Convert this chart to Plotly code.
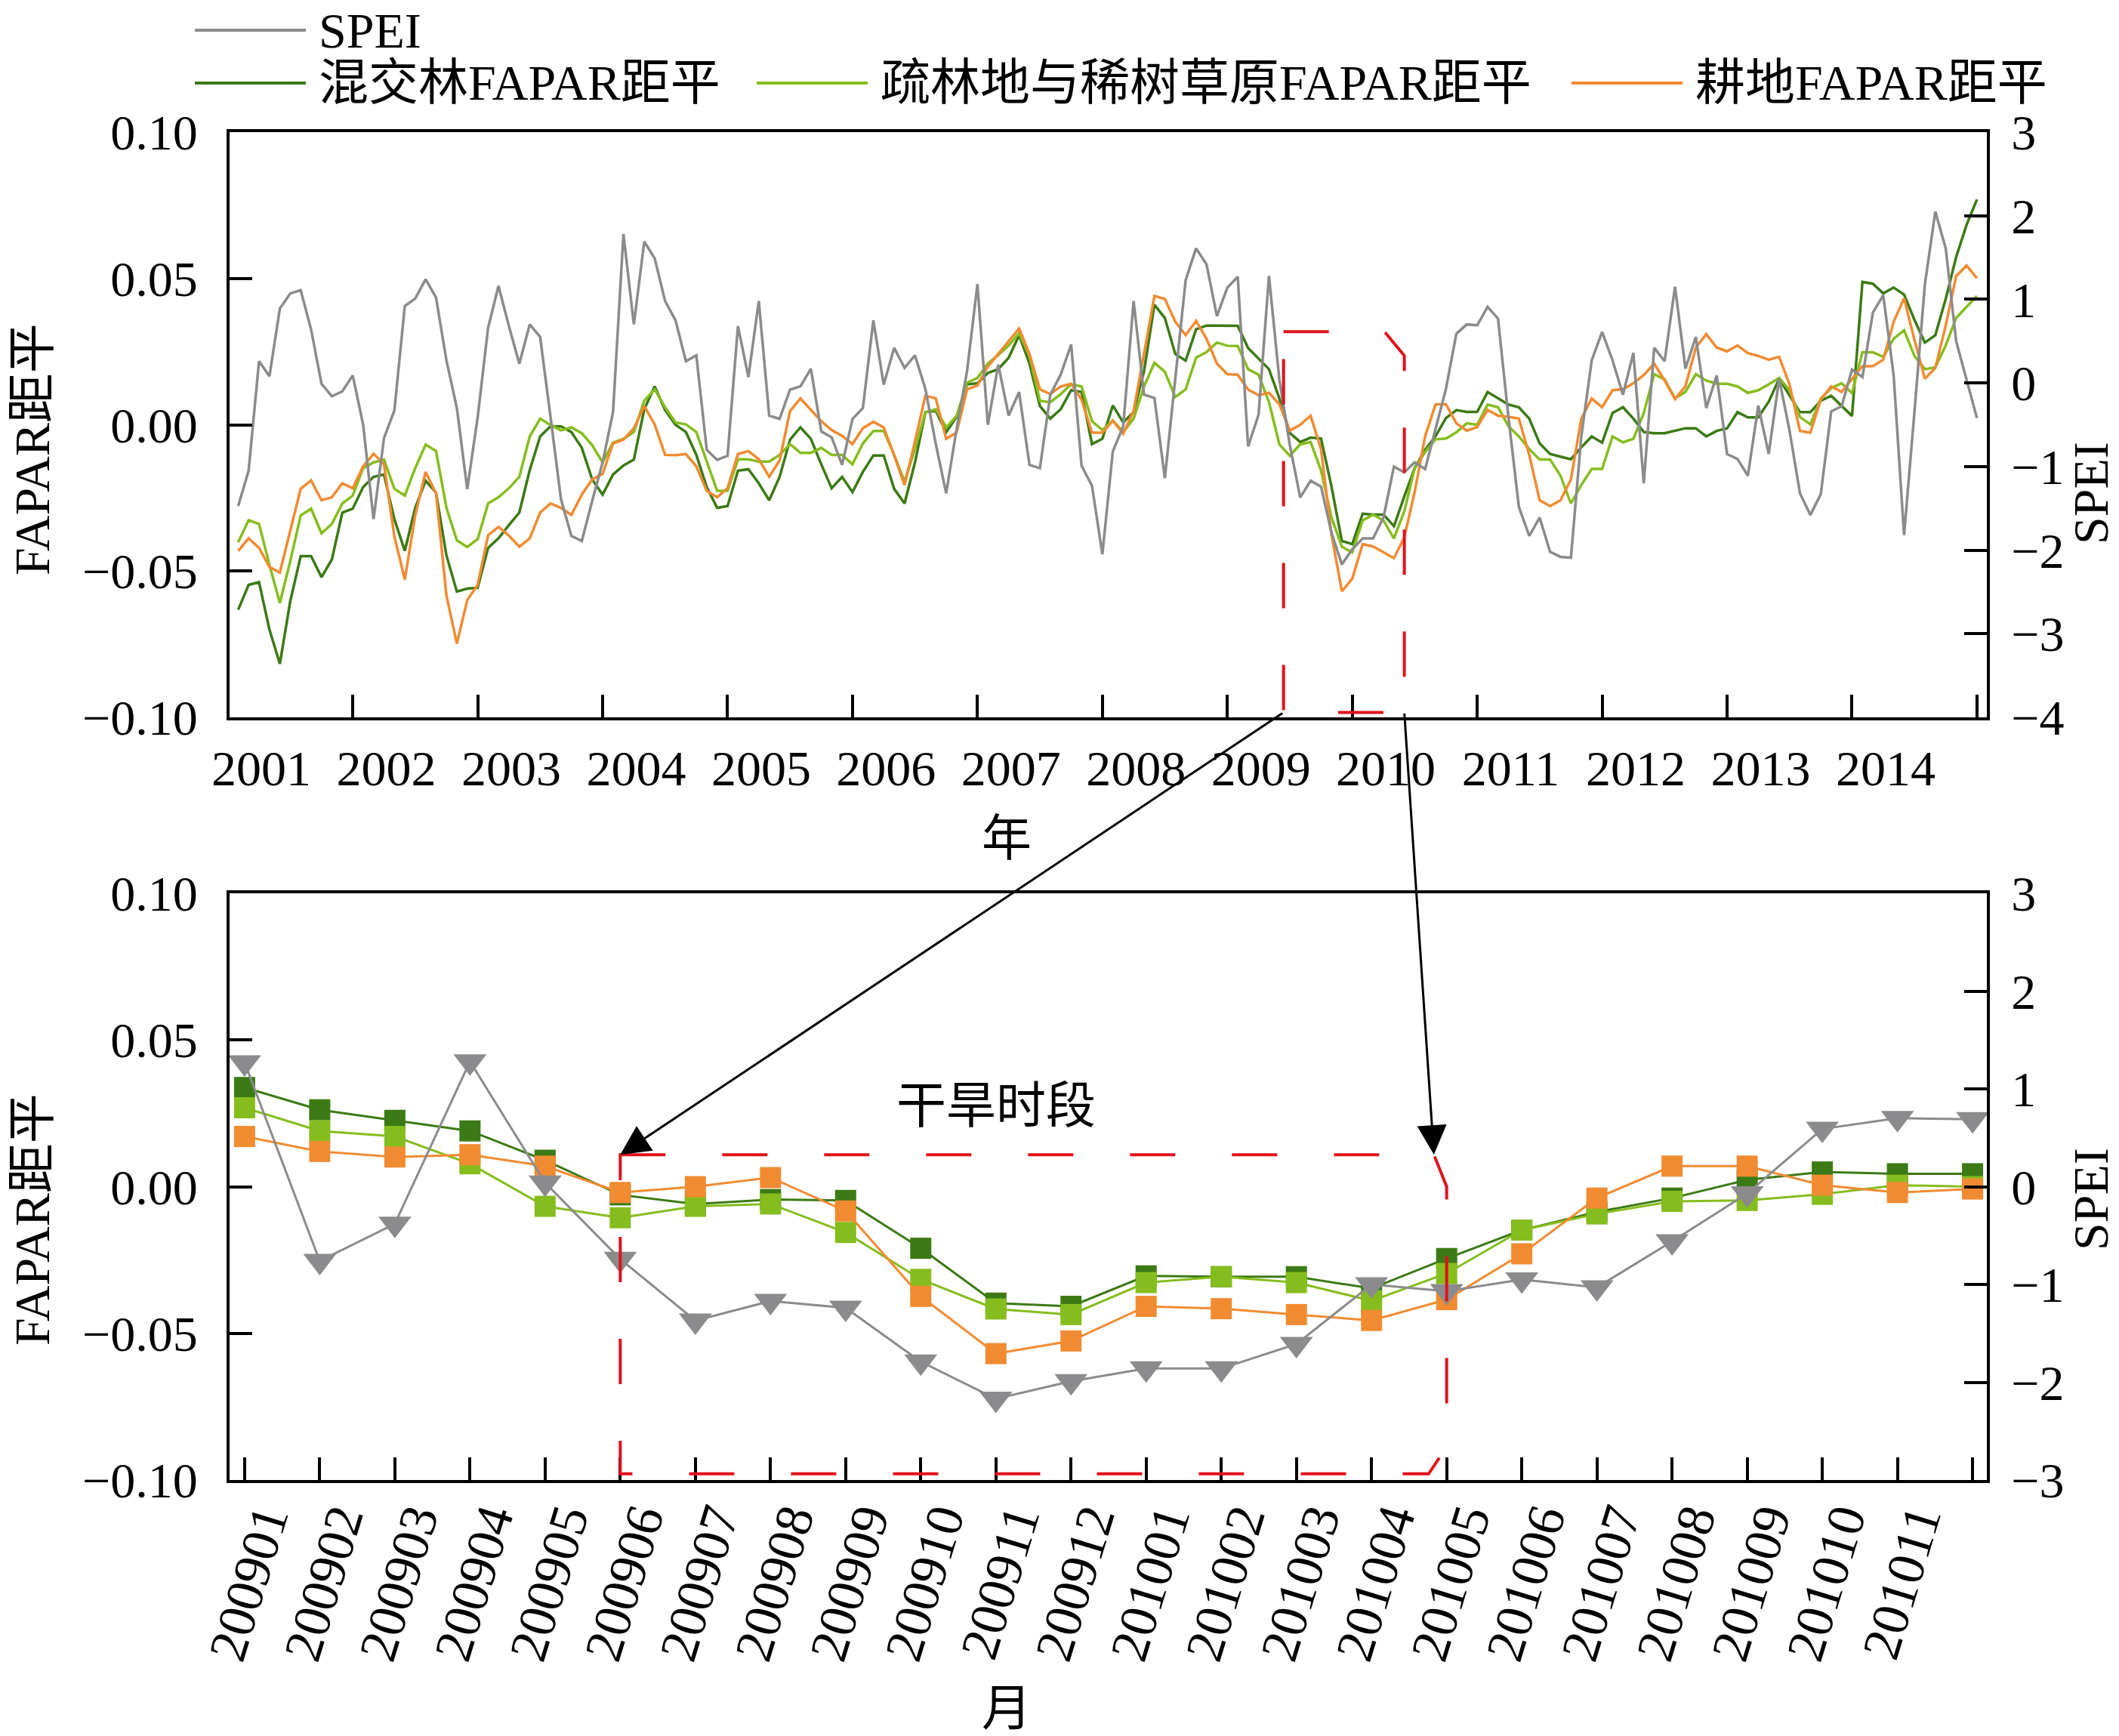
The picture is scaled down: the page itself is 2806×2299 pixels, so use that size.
import plotly.graph_objects as go

# ---------------- data ----------------
# monthly series Jan 2001 .. Dec 2014, one row per year
SPEI = [
    -1.47, -1.05, 0.26, 0.08, 0.89, 1.07, 1.11, 0.64, -0.01, -0.16, -0.10, 0.09,
    -0.50, -1.63, -0.66, -0.33, 0.92, 1.01, 1.24, 1.02, 0.27, -0.30, -1.27, -0.41,
    0.66, 1.16, 0.68, 0.23, 0.70, 0.55, -0.41, -1.39, -1.83, -1.89, -1.41, -0.95,
    -0.35, 1.78, 0.70, 1.69, 1.49, 0.98, 0.75, 0.26, 0.33, -0.80, -0.92, -0.87,
    0.68, 0.07, 0.98, -0.39, -0.43, -0.08, -0.04, 0.17, -0.58, -0.65, -0.98, -0.43,
    -0.30, 0.75, -0.02, 0.42, 0.18, 0.33, -0.07, -0.73, -1.32, -0.55, 0.14, 1.18,
    -0.50, 0.22, -0.39, -0.11, -0.98, -1.02, -0.14, 0.10, 0.46, -0.99, -1.23, -2.05,
    -0.82, -0.52, 0.98, -0.14, -0.18, -1.14, 0.05, 1.23, 1.61, 1.42, 0.80, 1.14,
    1.27, -0.76, -0.38, 1.28, 0.04, -0.74, -1.37, -1.17, -1.24, -1.79, -2.17, -1.99,
    -1.86, -1.86, -1.61, -1.00, -1.07, -0.95, -1.03, -0.56, -0.07, 0.59, 0.70, 0.69,
    0.91, 0.77, -0.41, -1.48, -1.83, -1.61, -2.02, -2.08, -2.09, -0.64, 0.27, 0.61,
    0.27, -0.14, 0.36, -1.20, 0.42, 0.26, 1.15, 0.17, 0.55, -0.30, 0.09, -0.85,
    -0.91, -1.11, -0.27, -0.85, 0.05, -0.57, -1.32, -1.58, -1.33, -0.34, -0.28, 0.16,
    0.07, 0.84, 1.05, 0.09, -1.82, -0.34, 1.18, 2.05, 1.61, 0.50, 0.05, -0.42,
]

MIXED_FOREST = [
    -0.0632, -0.0547, -0.0538, -0.0700, -0.0817, -0.0603, -0.0449, -0.0449, -0.0521, -0.0460, -0.0300, -0.0287,
    -0.0213, -0.0178, -0.0170, -0.0323, -0.0431, -0.0284, -0.0191, -0.0232, -0.0447, -0.0570, -0.0560, -0.0557,
    -0.0421, -0.0388, -0.0343, -0.0300, -0.0155, -0.0040, -0.0005, -0.0006, -0.0025, -0.0079, -0.0187, -0.0239,
    -0.0170, -0.0139, -0.0119, 0.0053, 0.0131, 0.0050, 0.0000, -0.0025, -0.0103, -0.0213, -0.0284, -0.0278,
    -0.0157, -0.0152, -0.0200, -0.0258, -0.0178, -0.0051, -0.0009, -0.0048, -0.0135, -0.0217, -0.0178, -0.0230,
    -0.0161, -0.0105, -0.0105, -0.0219, -0.0269, -0.0129, 0.0043, 0.0047, -0.0025, 0.0027, 0.0138, 0.0142,
    0.0177, 0.0190, 0.0229, 0.0306, 0.0209, 0.0064, 0.0021, 0.0053, 0.0118, 0.0112, -0.0066, -0.0048,
    0.0066, 0.0008, 0.0043, 0.0183, 0.0410, 0.0365, 0.0242, 0.0219, 0.0326, 0.0339, 0.0339, 0.0339,
    0.0338, 0.0262, 0.0226, 0.0190, 0.0090, -0.0028, -0.0059, -0.0044, -0.0047, -0.0210, -0.0397, -0.0408,
    -0.0304, -0.0307, -0.0307, -0.0347, -0.0245, -0.0148, -0.0086, -0.0039, 0.0023, 0.0050, 0.0044, 0.0044,
    0.0112, 0.0090, 0.0069, 0.0060, 0.0021, -0.0064, -0.0100, -0.0109, -0.0118, -0.0077, -0.0040, -0.0061,
    0.0040, 0.0060, 0.0021, -0.0025, -0.0029, -0.0029, -0.0021, -0.0012, -0.0012, -0.0040, -0.0021, -0.0012,
    0.0043, 0.0025, 0.0025, 0.0079, 0.0157, 0.0099, 0.0043, 0.0043, 0.0082, 0.0099, 0.0064, 0.0030,
    0.0488, 0.0482, 0.0449, 0.0469, 0.0445, 0.0358, 0.0281, 0.0306, 0.0430, 0.0573, 0.0683, 0.0770,
]

SAVANNA = [
    -0.0401, -0.0326, -0.0339, -0.0479, -0.0609, -0.0466, -0.0310, -0.0287, -0.0371, -0.0339, -0.0269, -0.0242,
    -0.0148, -0.0129, -0.0119, -0.0219, -0.0242, -0.0148, -0.0068, -0.0090, -0.0284, -0.0395, -0.0418, -0.0391,
    -0.0269, -0.0248, -0.0217, -0.0178, -0.0040, 0.0021, -0.0001, -0.0019, -0.0009, -0.0029, -0.0070, -0.0129,
    -0.0061, -0.0048, -0.0025, 0.0082, 0.0121, 0.0060, 0.0008, 0.0001, -0.0025, -0.0129, -0.0226, -0.0226,
    -0.0118, -0.0118, -0.0126, -0.0126, -0.0103, -0.0066, -0.0096, -0.0096, -0.0079, -0.0103, -0.0103, -0.0135,
    -0.0064, -0.0021, -0.0021, -0.0103, -0.0194, -0.0083, 0.0043, 0.0053, -0.0009, 0.0030, 0.0144, 0.0160,
    0.0209, 0.0238, 0.0271, 0.0313, 0.0235, 0.0082, 0.0077, 0.0105, 0.0138, 0.0131, 0.0012, -0.0018,
    0.0014, -0.0025, 0.0021, 0.0131, 0.0212, 0.0181, 0.0095, 0.0121, 0.0229, 0.0248, 0.0281, 0.0270,
    0.0269, 0.0190, 0.0171, 0.0078, -0.0067, -0.0106, -0.0067, -0.0059, -0.0156, -0.0316, -0.0417, -0.0436,
    -0.0327, -0.0307, -0.0327, -0.0389, -0.0296, -0.0148, -0.0093, -0.0050, -0.0047, -0.0026, 0.0005, 0.0000,
    0.0069, 0.0060, -0.0005, -0.0040, -0.0083, -0.0119, -0.0119, -0.0174, -0.0269, -0.0206, -0.0151, -0.0151,
    -0.0040, -0.0060, -0.0048, 0.0040, 0.0173, 0.0155, 0.0090, 0.0112, 0.0173, 0.0151, 0.0140, 0.0140,
    0.0131, 0.0109, 0.0118, 0.0138, 0.0160, 0.0118, 0.0027, 0.0001, 0.0090, 0.0125, 0.0142, 0.0108,
    0.0248, 0.0248, 0.0232, 0.0294, 0.0323, 0.0235, 0.0190, 0.0196, 0.0271, 0.0365, 0.0404, 0.0440,
]

CROPLAND = [
    -0.0431, -0.0388, -0.0421, -0.0486, -0.0505, -0.0362, -0.0219, -0.0190, -0.0258, -0.0248, -0.0200, -0.0217,
    -0.0142, -0.0099, -0.0135, -0.0382, -0.0529, -0.0310, -0.0161, -0.0235, -0.0583, -0.0748, -0.0599, -0.0547,
    -0.0378, -0.0349, -0.0379, -0.0417, -0.0388, -0.0300, -0.0269, -0.0284, -0.0308, -0.0239, -0.0187, -0.0168,
    -0.0064, -0.0051, -0.0012, 0.0064, 0.0001, -0.0103, -0.0104, -0.0100, -0.0142, -0.0226, -0.0248, -0.0217,
    -0.0100, -0.0090, -0.0118, -0.0178, -0.0122, 0.0047, 0.0090, 0.0051, 0.0012, -0.0018, -0.0038, -0.0066,
    -0.0012, 0.0010, -0.0009, -0.0105, -0.0206, -0.0057, 0.0099, 0.0090, -0.0048, -0.0027, 0.0121, 0.0134,
    0.0199, 0.0242, 0.0287, 0.0329, 0.0242, 0.0121, 0.0105, 0.0131, 0.0140, 0.0086, -0.0027, -0.0027,
    0.0014, -0.0031, 0.0047, 0.0248, 0.0440, 0.0430, 0.0352, 0.0306, 0.0355, 0.0294, 0.0209, 0.0173,
    0.0171, 0.0120, 0.0101, 0.0109, 0.0070, -0.0020, 0.0000, 0.0031, -0.0083, -0.0374, -0.0569, -0.0526,
    -0.0408, -0.0416, -0.0436, -0.0456, -0.0385, -0.0229, -0.0039, 0.0070, 0.0070, 0.0005, -0.0020, -0.0008,
    0.0051, 0.0031, 0.0027, 0.0021, -0.0103, -0.0258, -0.0278, -0.0258, -0.0187, 0.0021, 0.0090, 0.0060,
    0.0118, 0.0121, 0.0142, 0.0170, 0.0209, 0.0151, 0.0088, 0.0131, 0.0264, 0.0310, 0.0264, 0.0251,
    0.0271, 0.0245, 0.0235, 0.0222, 0.0232, 0.0138, -0.0021, -0.0027, 0.0086, 0.0131, 0.0112, 0.0157,
    0.0200, 0.0200, 0.0222, 0.0352, 0.0432, 0.0290, 0.0157, 0.0194, 0.0339, 0.0508, 0.0544, 0.0501,
]

YEAR_LABELS = ["2001", "2002", "2003", "2004", "2005", "2006", "2007",
               "2008", "2009", "2010", "2011", "2012", "2013", "2014"]

# zoomed window: Jan 2009 .. Dec 2010 (last month carries no label)
MONTH_LABELS = ["200901", "200902", "200903", "200904", "200905", "200906",
                "200907", "200908", "200909", "200910", "200911", "200912",
                "201001", "201002", "201003", "201004", "201005", "201006",
                "201007", "201008", "201009", "201010", "201011", ""]
ZOOM_START = 96  # index of 2009-01 in the monthly series

NAMES = ["SPEI", "混交林FAPAR距平", "疏林地与稀树草原FAPAR距平", "耕地FAPAR距平"]

# ---------------- style / layout constants ----------------
GRAY = "#8B8B8D"
DKGREEN = "#3C7A15"
LTGREEN = "#86BD1E"
ORANGE = "#F18B31"
RED = "#E0121C"
FONT = "Liberation Serif, Times New Roman, Noto Sans CJK SC"
FS = 66

W, H = 2806, 2299
ML, MR, MT, MB = 304, 175, 175, 339
PW = W - ML - MR
PH = H - MT - MB
TOP_PIX = (175, 950)
BOT_PIX = (1183, 1960)
TOP_XR = [-0.83, 167.95]
BOT_XR = [-0.2, 23.19]
FAP_R = [-0.1, 0.1]

# hand-drawn "drought period" outlines (data coordinates)
TOP_BOX = [(100.4, 0.0318), (110.1, 0.0318), (112.0, 0.0236), (112.0, -0.0983), (100.4, -0.0983)]
BOT_BOX = [(5.0, 0.0109), (15.83, 0.0109), (16.0, 0.0), (16.0, -0.0887), (15.76, -0.0979), (5.0, -0.0979)]


def paper_x(px):
    return (px - ML) / PW


def paper_y(py):
    return (H - MB - py) / PH


def to_px(x, v, xr, pix):
    px = ML + (x - xr[0]) / (xr[1] - xr[0]) * PW
    py = pix[1] - (v - FAP_R[0]) / (FAP_R[1] - FAP_R[0]) * (pix[1] - pix[0])
    return px, py


def box_path(pts):
    return "M " + " L ".join(f"{x},{y}" for x, y in pts) + " Z"


months = list(range(len(SPEI)))
zoom_x = list(range(len(MONTH_LABELS)))
zs = slice(ZOOM_START, ZOOM_START + len(MONTH_LABELS))

fig = go.Figure()

# top panel
for vals, col, name in [(MIXED_FOREST, DKGREEN, NAMES[1]), (SAVANNA, LTGREEN, NAMES[2]),
                        (CROPLAND, ORANGE, NAMES[3])]:
    fig.add_trace(go.Scatter(x=months, y=vals, mode="lines", name=name,
                             line=dict(color=col, width=3.5), xaxis="x", yaxis="y",
                             showlegend=False))
fig.add_trace(go.Scatter(x=months, y=SPEI, mode="lines", name=NAMES[0],
                         line=dict(color=GRAY, width=3.5), xaxis="x", yaxis="y2",
                         showlegend=False))

# bottom panel
for vals, col, name in [(MIXED_FOREST, DKGREEN, NAMES[1]), (SAVANNA, LTGREEN, NAMES[2]),
                        (CROPLAND, ORANGE, NAMES[3])]:
    fig.add_trace(go.Scatter(x=zoom_x, y=vals[zs], mode="lines+markers", name=name,
                             line=dict(color=col, width=3),
                             marker=dict(symbol="square", size=28, color=col),
                             xaxis="x2", yaxis="y3", showlegend=False))
fig.add_trace(go.Scatter(x=zoom_x, y=SPEI[zs], mode="lines+markers", name=NAMES[0],
                         line=dict(color=GRAY, width=3),
                         marker=dict(symbol="triangle-down", size=38, color=GRAY),
                         xaxis="x2", yaxis="y4", showlegend=False))

axis_common = dict(showline=True, linewidth=4, linecolor="black", ticks="inside",
                   ticklen=30, tickwidth=4, tickcolor="black", showgrid=False,
                   zeroline=False, tickfont=dict(family=FONT, size=FS, color="black"))

top_dom = [paper_y(TOP_PIX[1]), paper_y(TOP_PIX[0])]
bot_dom = [paper_y(BOT_PIX[1]), paper_y(BOT_PIX[0])]

fig.update_layout(
    width=W, height=H,
    margin=dict(l=ML, r=MR, t=MT, b=MB),
    paper_bgcolor="white", plot_bgcolor="white",
    font=dict(family=FONT, size=FS, color="black"),
    xaxis=dict(axis_common, domain=[0, 1], anchor="y", range=TOP_XR, mirror=True,
               tickmode="array", tickvals=list(range(11, 168, 12)), ticktext=YEAR_LABELS,
               ticklabelshift=-121, ticklabelstandoff=7),
    yaxis=dict(axis_common, domain=top_dom, anchor="x", range=FAP_R,
               tickmode="array", tickvals=[-0.1, -0.05, 0, 0.05, 0.1], tickformat=".2f",
               ticklabelstandoff=25),
    yaxis2=dict(axis_common, overlaying="y", side="right", anchor="x", range=[-4, 3],
                tickmode="linear", tick0=-4, dtick=1, ticklabelstandoff=15),
    xaxis2=dict(axis_common, domain=[0, 1], anchor="y3", range=BOT_XR, mirror=True,
                tickmode="array", tickvals=zoom_x, ticktext=MONTH_LABELS,
                tickangle=-73, ticklabelshift=25, ticklabelstandoff=-20,
                tickfont=dict(family=FONT, size=70, color="black")),
    yaxis3=dict(axis_common, domain=bot_dom, anchor="x2", range=FAP_R,
                tickmode="array", tickvals=[-0.1, -0.05, 0, 0.05, 0.1], tickformat=".2f",
                ticklabelstandoff=25),
    yaxis4=dict(axis_common, overlaying="y3", side="right", anchor="x2", range=[-3, 3],
                tickmode="linear", tick0=-3, dtick=1, ticklabelstandoff=15),
)

# drought period outlines
dash = dict(color=RED, width=4, dash="60px,75px")
fig.add_shape(type="path", path=box_path(TOP_BOX), xref="x", yref="y", line=dash)
fig.add_shape(type="path", path=box_path(BOT_BOX), xref="x2", yref="y3", line=dash)

# arrows from the top outline to the zoomed outline
for tail, head in [(TOP_BOX[4], BOT_BOX[0]), (TOP_BOX[3], BOT_BOX[1])]:
    tx, ty = to_px(tail[0], tail[1], TOP_XR, TOP_PIX)
    hx, hy = to_px(head[0], head[1], BOT_XR, BOT_PIX)
    fig.add_annotation(x=paper_x(hx), y=paper_y(hy), xref="paper", yref="paper",
                       ax=tx - hx, ay=ty - hy, axref="pixel", ayref="pixel",
                       text="", showarrow=True, arrowhead=2, arrowsize=2.6,
                       arrowwidth=3, arrowcolor="black", standoff=0)

fig.add_annotation(x=10.0, y=0.0275, xref="x2", yref="y3", text="干旱时段",
                   showarrow=False, font=dict(size=FS))

# axis titles
titles = [
    ("FAPAR距平", 42, 595, -90),
    ("FAPAR距平", 42, 1615, -90),
    ("SPEI", 2768, 653, -90),
    ("SPEI", 2768, 1588, -90),
    ("年", 1333, 1110, 0),
    ("月", 1333, 2262, 0),
]
for txt, px, py, ang in titles:
    fig.add_annotation(x=paper_x(px), y=paper_y(py), xref="paper", yref="paper",
                       text=txt, textangle=ang, showarrow=False,
                       xanchor="center", yanchor="middle", font=dict(size=FS))

# legend drawn by hand so the line samples are as long as in the original
legend_items = [
    (NAMES[0], GRAY, 258, 40),
    (NAMES[1], DKGREEN, 258, 110),
    (NAMES[2], LTGREEN, 1002, 110),
    (NAMES[3], ORANGE, 2081, 110),
]
for txt, col, px, py in legend_items:
    fig.add_shape(type="line", xref="paper", yref="paper",
                  x0=paper_x(px), x1=paper_x(px + 147), y0=paper_y(py), y1=paper_y(py),
                  line=dict(color=col, width=4))
    fig.add_annotation(x=paper_x(px + 162), y=paper_y(py), xref="paper", yref="paper",
                       text=txt, showarrow=False, xanchor="left", yanchor="middle",
                       font=dict(size=FS))

fig.write_html("out.html", config={"displayModeBar": False},
               post_script="document.body.style.margin='0';")
